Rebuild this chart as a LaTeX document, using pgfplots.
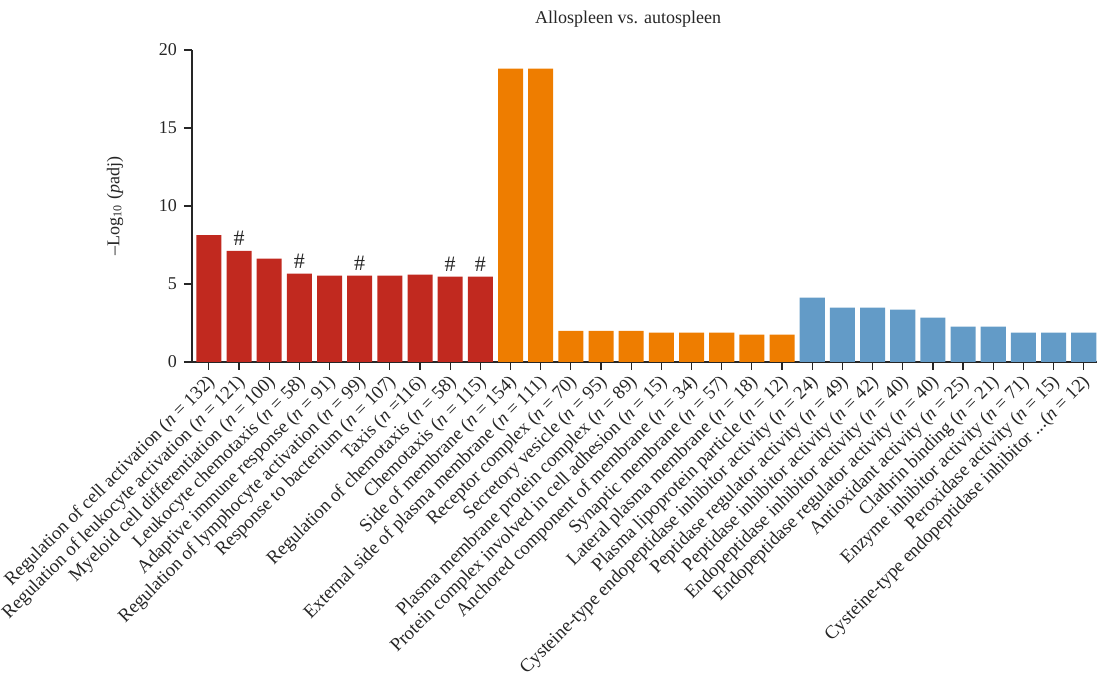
\documentclass[border=0pt]{standalone}
\usepackage{fontspec}
\setmainfont{Liberation Serif}
\usepackage{pgfplots}
\pgfplotsset{compat=1.18}
\definecolor{goRed}{HTML}{C1291F}
\definecolor{goOrange}{HTML}{EE7D00}
\definecolor{goBlue}{HTML}{639BC7}
\definecolor{axisgray}{HTML}{262626}
\newcommand{\nn}[1]{(\textit{n} = #1)}
\newcommand{\ellip}{.\kern0pt.\kern0pt.}

\begin{document}
\begin{tikzpicture}
\begin{axis}[
  scale only axis,
  width=452.5pt, height=156pt,
  xmin=-0.56, xmax=29.44, ymin=0, ymax=20,
  axis x line*=bottom, axis y line*=left,
  axis line style={axisgray, line width=0.7pt},
  tick style={axisgray, line width=0.6pt},
  tick align=outside, major tick length=4pt,
  ytick={0,5,10,15,20},
  xtick={0,1,2,3,4,5,6,7,8,9,10,11,12,13,14,15,16,17,18,19,20,21,22,23,24,25,26,27,28,29},
  xticklabels={
    Regulation of cell activation \nn{132},
    Regulation of leukocyte activation \nn{121},
    Myeloid cell differentiation \nn{100},
    Leukocyte chemotaxis \nn{58},
    Adaptive immune response \nn{91},
    Regulation of lymphocyte activation \nn{99},
    Response to bacterium \nn{107},
    Taxis (\textit{n} =116),
    Regulation of chemotaxis \nn{58},
    Chemotaxis \nn{115},
    Side of membrane \nn{154},
    External side of plasma membrane \nn{111},
    Receptor complex \nn{70},
    Secretory vesicle \nn{95},
    Plasma membrane protein complex \nn{89},
    Protein complex involved in cell adhesion \nn{15},
    Anchored component of membrane \nn{34},
    Synaptic membrane \nn{57},
    Lateral plasma membrane \nn{18},
    Plasma lipoprotein particle \nn{12},
    Cysteine-type endopeptidase inhibitor activity \nn{24},
    Peptidase regulator activity \nn{49},
    Peptidase inhibitor activity \nn{42},
    Endopeptidase inhibitor activity \nn{40},
    Endopeptidase regulator activity \nn{40},
    Antioxidant activity \nn{25},
    Clathrin binding \nn{21},
    Enzyme inhibitor activity \nn{71},
    Peroxidase activity \nn{15},
    {Cysteine-type endopeptidase inhibitor \ellip\nn{12}}
  },
  xticklabel style={rotate=45, anchor=north east, inner sep=1pt,
    xshift=-1pt, yshift=1pt,
    font=\fontsize{9.4}{11}\selectfont, text=black!85},
  yticklabel style={font=\fontsize{9}{11}\selectfont, text=black!85},
  /pgf/number format/assume math mode=true,
  ylabel={--Log\textsubscript{10} (\textit{p}adj)},
  ylabel style={at={(rel axis cs:0,0.5)}, anchor=center, yshift=38.5pt,
    font=\fontsize{9}{11}\selectfont, text=black!85},
  clip=false,
]
% biological process terms
\addplot[ybar, bar width=0.83, bar shift=0pt, fill=goRed, draw=none]
  coordinates {(0,8.14) (1,7.13) (2,6.62) (3,5.66) (4,5.53)
               (5,5.53) (6,5.53) (7,5.60) (8,5.47) (9,5.47)};
% cellular component terms
\addplot[ybar, bar width=0.83, bar shift=0pt, fill=goOrange, draw=none]
  coordinates {(10,18.8) (11,18.8) (12,2.00) (13,2.00) (14,2.00)
               (15,1.88) (16,1.88) (17,1.88) (18,1.75) (19,1.75)};
% molecular function terms
\addplot[ybar, bar width=0.83, bar shift=0pt, fill=goBlue, draw=none]
  coordinates {(20,4.12) (21,3.48) (22,3.48) (23,3.35) (24,2.84)
               (25,2.26) (26,2.26) (27,1.88) (28,1.88) (29,1.88)};
% markers over selected terms
\addplot[draw=none, mark=none, nodes near coords={\#},
  every node near coord/.append style={anchor=south, inner sep=2.5pt,
    font=\fontsize{11}{13}\selectfont, text=black!85}]
  coordinates {(1,7.13) (3,5.66) (5,5.53) (8,5.47) (9,5.47)};
\node[font=\fontsize{9}{11}\selectfont, text=black!85, anchor=base]
  at ([yshift=13pt]rel axis cs:0.482,1) {Allospleen vs. autospleen};
\coordinate (plotSW) at (rel axis cs:0,0);
\coordinate (plotNE) at (rel axis cs:1,1);
\end{axis}
% page frame around the axis and its labels
\pgfresetboundingbox
\path ([xshift=-96pt, yshift=-158pt]plotSW) rectangle ([yshift=25pt]plotNE);
\end{tikzpicture}
\end{document}
